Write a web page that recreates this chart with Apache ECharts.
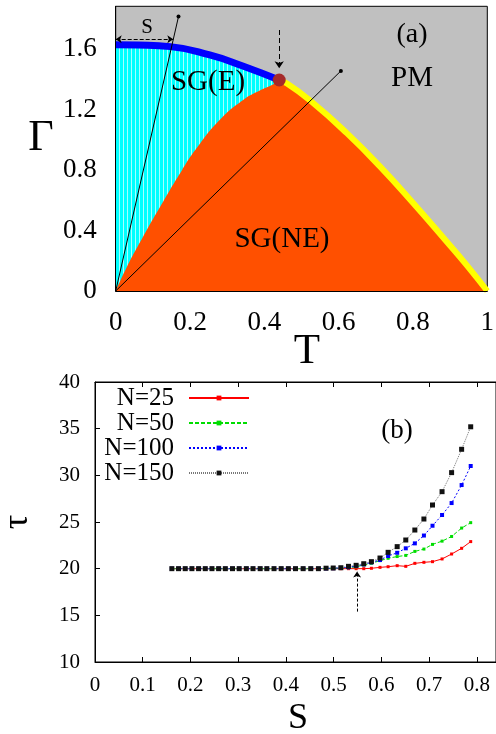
<!DOCTYPE html>
<html><head><meta charset="utf-8">
<script src="https://cdn.jsdelivr.net/npm/echarts@6/dist/echarts.min.js"></script>
<style>html,body{margin:0;padding:0;background:#fff}#c{width:496px;height:734px}</style>
</head><body><div id="c"></div>
<script>
// ---------- Panel (a) data: phase diagram (T, Gamma) ----------
const eT  = [0, 0.06, 0.147, 0.253, 0.342, 0.44];          // SG(E) / PM boundary (blue)
const eG  = [1.63, 1.628, 1.618, 1.563, 1.49, 1.397];
const neT = [0, 0.03, 0.074, 0.128, 0.178, 0.218, 0.281, 0.343, 0.389, 0.415, 0.44]; // SG(NE) left edge
const neG = [0, 0.159, 0.361, 0.593, 0.798, 0.946, 1.135, 1.265, 1.329, 1.358, 1.381];
const pmT = [0.44, 0.46, 0.532, 0.622, 0.711, 0.801, 0.891, 0.945, 1.0]; // SG(NE) / PM boundary (yellow)
const pmG = [1.39, 1.375, 1.243, 1.045, 0.825, 0.581, 0.326, 0.17, 0];
const tricritical = [0.44, 1.397];
const ray1 = [[0, 0], [0.169, 1.817]];
const ray2 = [[0, 0], [0.606, 1.457]];
const sArrow = [[0, 1.667], [0.155, 1.667]];
const downArrow = [[0.44, 1.728], [0.44, 1.475]];
const xTicksA = [0, 0.2, 0.4, 0.6, 0.8, 1];
const yTicksA = [0, 0.4, 0.8, 1.2, 1.6];

// ---------- Panel (b) data: tau vs S ----------
const sVals = [0.161, 0.175, 0.189, 0.203, 0.217, 0.231, 0.245, 0.259, 0.273, 0.288,
               0.302, 0.317, 0.331, 0.346, 0.360, 0.375, 0.390, 0.405, 0.420, 0.436,
               0.452, 0.468, 0.484, 0.499, 0.515, 0.531, 0.547, 0.563, 0.579, 0.597,
               0.614, 0.633, 0.651, 0.670, 0.689, 0.707, 0.727, 0.747, 0.768, 0.787];
const flat20 = [20,20,20,20,20,20,20,20,20,20,20,20,20,20,20,20,20,20,20,20];
const tau25  = flat20.concat([20.0, 20.0, 20.0, 20.0, 20.0, 20.0, 20.0, 20.0, 20.04, 20.14,
                              20.21, 20.32, 20.25, 20.57, 20.68, 20.75, 21.04, 21.57, 22.18, 22.9]);
const tau50  = flat20.concat([20.0, 20.0, 20.02, 20.03, 20.05, 20.1, 20.2, 20.4, 20.57, 20.86,
                              21.11, 21.3, 21.42, 21.85, 22.1, 22.6, 22.95, 23.45, 24.35, 24.93]);
const tau100 = flat20.concat([20.0, 20.0, 20.03, 20.05, 20.08, 20.15, 20.29, 20.46, 20.68, 20.93,
                              21.36, 21.7, 22.18, 22.71, 23.55, 24.6, 25.75, 27.03, 28.96, 31.0]);
const tau150 = flat20.concat([20.0, 20.0, 20.05, 20.07, 20.1, 20.25, 20.36, 20.53, 20.75, 21.14,
                              21.75, 22.36, 23.07, 24.14, 25.32, 26.82, 28.25, 30.29, 32.79, 35.2]);
const seriesNames = ['N=25', 'N=50', 'N=100', 'N=150'];
const sArrowB = [[0.549, 15.4], [0.549, 19.7]];

const FONT = 'Liberation Serif';
const zip = (a, b) => a.map((v, i) => [v, b[i]]);

function stripes() {
  const c = document.createElement('canvas'); c.width = 4; c.height = 4;
  const g = c.getContext('2d');
  g.fillStyle = '#00ffff'; g.fillRect(0, 0, 4, 4);
  g.fillStyle = '#a8ffff'; g.fillRect(3, 0, 1, 4);
  return c;
}

const orangeData = zip(neT, neG).concat(zip(pmT.slice(1), pmG.slice(1)));

const chart = echarts.init(document.getElementById('c'));
const axisTxt = (size) => ({fontFamily: FONT, fontSize: size, color: '#000'});
const SM = 0.5;

chart.setOption({
  animation: false,
  grid: [
    {left: 115.7, right: 8.7, top: 6.3, bottom: 443, outerBoundsMode: 'none', show: true, backgroundColor: '#c0c0c0', borderColor: '#000', borderWidth: 1},
    {left: 95, right: 0, top: 382, bottom: 72, outerBoundsMode: 'none', show: true, backgroundColor: '#fff', borderColor: '#000', borderWidth: 1}
  ],
  xAxis: [
    {gridIndex: 0, type: 'value', min: 0, max: 1, interval: 0.2, z: 10,
     axisLine: {onZero: false, lineStyle: {color: '#000', width: 1}}, axisTick: {show: false}, splitLine: {show: false},
     axisLabel: Object.assign(axisTxt(27), {margin: 18, formatter: v => xTicksA.includes(+v.toFixed(2)) ? String(+v.toFixed(2)) : ''})},
    {gridIndex: 1, type: 'value', min: 0, max: 0.84, interval: 0.1, z: 10,
     axisLine: {onZero: false, lineStyle: {color: '#000', width: 1}},
     axisTick: {inside: true, length: 5, lineStyle: {color: '#000'}}, splitLine: {show: false},
     axisLabel: Object.assign(axisTxt(21), {margin: 13, showMaxLabel: false, formatter: v => String(+v.toFixed(1))})},
    {gridIndex: 1, type: 'value', position: 'top', min: 0, max: 0.84, interval: 0.1, z: 10,
     axisLine: {onZero: false, lineStyle: {color: '#000', width: 1}},
     axisTick: {inside: true, length: 5, lineStyle: {color: '#000'}}, splitLine: {show: false}, axisLabel: {show: false}}
  ],
  yAxis: [
    {gridIndex: 0, type: 'value', min: 0, max: 1.885, interval: 0.4, z: 10,
     axisLine: {onZero: false, lineStyle: {color: '#000', width: 1}}, axisTick: {show: false}, splitLine: {show: false},
     axisLabel: Object.assign(axisTxt(27), {margin: 19, showMaxLabel: false, formatter: v => yTicksA.includes(+v.toFixed(2)) ? String(+v.toFixed(1)).replace(/^0\.0$/, '0') : ''})},
    {gridIndex: 1, type: 'value', min: 10, max: 40, interval: 5, z: 10,
     axisLine: {onZero: false, lineStyle: {color: '#000', width: 1}},
     axisTick: {inside: true, length: 5, lineStyle: {color: '#000'}}, splitLine: {show: false},
     axisLabel: Object.assign(axisTxt(21), {margin: 15})}
  ],
  legend: {
    orient: 'vertical', align: 'right', right: 246, top: 385.5, padding: 0,
    itemWidth: 60, itemHeight: 6, itemGap: 0,
    data: seriesNames,
    textStyle: {fontFamily: FONT, fontSize: 25, color: '#000', lineHeight: 23, padding: [0, 10, 0, 0]}
  },
  series: [
    // Panel (a)
    {type: 'line', xAxisIndex: 0, yAxisIndex: 0, data: zip(eT, eG), smooth: SM, symbol: 'none', z: 2,
     lineStyle: {width: 0}, areaStyle: {color: {image: stripes(), repeat: 'repeat'}, opacity: 1}},
    {type: 'line', xAxisIndex: 0, yAxisIndex: 0, data: orangeData, smooth: SM, symbol: 'none', z: 3,
     lineStyle: {width: 0}, areaStyle: {color: '#ff5000', opacity: 1}},
    {type: 'line', xAxisIndex: 0, yAxisIndex: 0, data: zip(eT, eG), smooth: SM, symbol: 'none', z: 4,
     lineStyle: {color: '#0000ff', width: 7}},
    {type: 'line', xAxisIndex: 0, yAxisIndex: 0, data: zip(pmT, pmG), smooth: SM, symbol: 'none', z: 4,
     lineStyle: {color: '#ffff00', width: 6}},
    {type: 'line', xAxisIndex: 0, yAxisIndex: 0, z: 5, lineStyle: {color: '#000', width: 1}, itemStyle: {color: '#000'},
     data: [{value: ray1[0], symbol: 'none'}, {value: ray1[1], symbol: 'circle', symbolSize: 4}]},
    {type: 'line', xAxisIndex: 0, yAxisIndex: 0, z: 5, lineStyle: {color: '#000', width: 1}, itemStyle: {color: '#000'},
     data: [{value: ray2[0], symbol: 'none'}, {value: ray2[1], symbol: 'circle', symbolSize: 4}]},
    {type: 'lines', coordinateSystem: 'cartesian2d', xAxisIndex: 0, yAxisIndex: 0, z: 5,
     symbol: ['arrow', 'arrow'], symbolSize: 6,
     lineStyle: {color: '#000', width: 1, type: [4, 2], opacity: 1}, data: [{coords: sArrow}]},
    {type: 'lines', coordinateSystem: 'cartesian2d', xAxisIndex: 0, yAxisIndex: 0, z: 5,
     symbol: ['none', 'arrow'], symbolSize: 7,
     lineStyle: {color: '#000', width: 1, type: [5, 3], opacity: 1}, data: [{coords: downArrow}]},
    {type: 'scatter', xAxisIndex: 0, yAxisIndex: 0, z: 6, symbolSize: 13,
     itemStyle: {color: '#a52a2a', opacity: 1}, data: [tricritical]},
    // Panel (b)
    {name: 'N=25', type: 'line', xAxisIndex: 1, yAxisIndex: 1, data: zip(sVals, tau25), z: 3,
     symbol: 'rect', symbolSize: 3, itemStyle: {color: '#ff0000'}, lineStyle: {color: '#ff0000', width: 1}},
    {name: 'N=50', type: 'line', xAxisIndex: 1, yAxisIndex: 1, data: zip(sVals, tau50), z: 4,
     symbol: 'rect', symbolSize: 3, itemStyle: {color: '#00dd00'}, lineStyle: {color: '#00dd00', width: 1, type: [4, 2]}},
    {name: 'N=100', type: 'line', xAxisIndex: 1, yAxisIndex: 1, data: zip(sVals, tau100), z: 5,
     symbol: 'rect', symbolSize: 4, itemStyle: {color: '#0000ff'}, lineStyle: {color: '#0000ff', width: 1, type: [2, 2]}},
    {name: 'N=150', type: 'line', xAxisIndex: 1, yAxisIndex: 1, data: zip(sVals, tau150), z: 6,
     symbol: 'rect', symbolSize: 5, itemStyle: {color: '#111'}, lineStyle: {color: '#777', width: 1, type: [1, 1]}},
    {type: 'lines', coordinateSystem: 'cartesian2d', xAxisIndex: 1, yAxisIndex: 1, z: 5,
     symbol: ['none', 'arrow'], symbolSize: 6,
     lineStyle: {color: '#000', width: 1, type: [3, 2], opacity: 1}, data: [{coords: sArrowB}]}
  ],
  graphic: [
    {type: 'text', x: 412, y: 35, z: 100, style: {text: '(a)', font: '28px "Liberation Serif"', fill: '#000', textAlign: 'center', textVerticalAlign: 'middle'}},
    {type: 'text', x: 412, y: 78, z: 100, style: {text: 'PM', font: '29px "Liberation Serif"', fill: '#000', textAlign: 'center', textVerticalAlign: 'middle'}},
    {type: 'text', x: 208, y: 82, z: 100, style: {text: 'SG(E)', font: '29px "Liberation Serif"', fill: '#000', textAlign: 'center', textVerticalAlign: 'middle'}},
    {type: 'text', x: 282, y: 239, z: 100, style: {text: 'SG(NE)', font: '29px "Liberation Serif"', fill: '#000', textAlign: 'center', textVerticalAlign: 'middle'}},
    {type: 'text', x: 147, y: 27, z: 100, style: {text: 'S', font: '21px "Liberation Serif"', fill: '#000', textAlign: 'center', textVerticalAlign: 'middle'}},
    {type: 'text', x: 41, y: 138, z: 100, style: {text: 'Γ', font: '44px "Liberation Serif"', fill: '#000', textAlign: 'center', textVerticalAlign: 'middle'}},
    {type: 'text', x: 307, y: 352, z: 100, style: {text: 'T', font: '43px "Liberation Serif"', fill: '#000', textAlign: 'center', textVerticalAlign: 'middle'}},
    {type: 'text', x: 397, y: 431, z: 100, style: {text: '(b)', font: '27px "Liberation Serif"', fill: '#000', textAlign: 'center', textVerticalAlign: 'middle'}},
    {type: 'text', x: 298, y: 719, z: 100, style: {text: 'S', font: '36px "Liberation Serif"', fill: '#000', textAlign: 'center', textVerticalAlign: 'middle'}},
    {type: 'text', x: 18, y: 522, z: 100, rotation: Math.PI / 2, style: {text: 'τ', font: '36px "Liberation Serif"', fill: '#000', textAlign: 'center', textVerticalAlign: 'middle'}}
  ]
});
</script></body></html>
